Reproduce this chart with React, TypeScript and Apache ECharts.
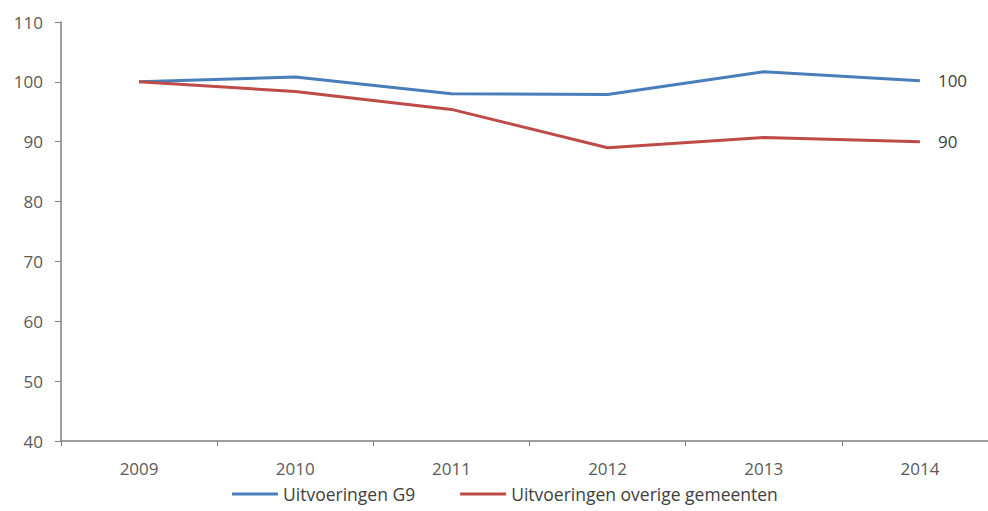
import React, { useEffect, useRef } from "react";
import * as echarts from "echarts";

const years = ["2009", "2010", "2011", "2012", "2013", "2014"];
const g9Values = [100, 100.8, 98.0, 97.9, 101.7, 100.2];
const overigeValues = [100, 98.4, 95.4, 89.0, 90.7, 90.0];
const seriesNames = ["Uitvoeringen G9", "Uitvoeringen overige gemeenten"];
const yMin = 40;
const yMax = 110;
const yInterval = 10;

const FONT = "Open Sans, Lato, sans-serif";

export default function App() {
  const ref = useRef<HTMLDivElement>(null);
  useEffect(() => {
    if (!ref.current) return;
    const chart = echarts.init(ref.current, null, { renderer: "svg" });
    const endLabel = {
      show: true,
      distance: 18,
      color: "#404040",
      fontSize: 17,
      fontFamily: FONT,
      formatter: (p: any) => String(Math.round(p.value)),
    };
    chart.setOption({
      animation: false,
      backgroundColor: "#ffffff",
      grid: {
        left: 61,
        top: 22,
        right: -10,
        bottom: 70,
        outerBoundsMode: "none",
        containLabel: false,
      },
      legend: {
        left: 232,
        top: 485,
        padding: 0,
        icon: "rect",
        itemWidth: 46,
        itemHeight: 3,
        itemGap: 45,
        textStyle: { color: "#404040", fontSize: 17.5, fontFamily: FONT },
        data: seriesNames,
      },
      xAxis: {
        type: "category",
        data: years,
        boundaryGap: true,
        axisLine: { lineStyle: { color: "#7f7f7f", width: 1.5 } },
        axisTick: { show: true, length: 5, alignWithLabel: false, lineStyle: { color: "#7f7f7f" } },
        axisLabel: { color: "#5a5a5a", fontSize: 17, fontFamily: FONT, margin: 19 },
        splitLine: { show: false },
      },
      yAxis: {
        type: "value",
        min: yMin,
        max: yMax,
        interval: yInterval,
        axisLine: { show: true, lineStyle: { color: "#7f7f7f", width: 1.5 } },
        axisTick: { show: true, length: 6, lineStyle: { color: "#7f7f7f" } },
        axisLabel: { color: "#5a5a5a", fontSize: 17, fontFamily: FONT, margin: 18 },
        splitLine: { show: false },
      },
      series: [
        {
          name: seriesNames[0],
          type: "line",
          data: g9Values,
          showSymbol: false,
          symbol: "none",
          color: "#4A7EBB",
          lineStyle: { width: 3, color: "#4A7EBB" },
          endLabel,
        },
        {
          name: seriesNames[1],
          type: "line",
          data: overigeValues,
          showSymbol: false,
          symbol: "none",
          color: "#BE4B48",
          lineStyle: { width: 3, color: "#BE4B48" },
          endLabel,
        },
      ],
    });
    return () => chart.dispose();
  }, []);
  return (
    <div
      ref={ref}
      style={{ position: "fixed", left: 0, top: 0, width: 988, height: 511 }}
    />
  );
}
